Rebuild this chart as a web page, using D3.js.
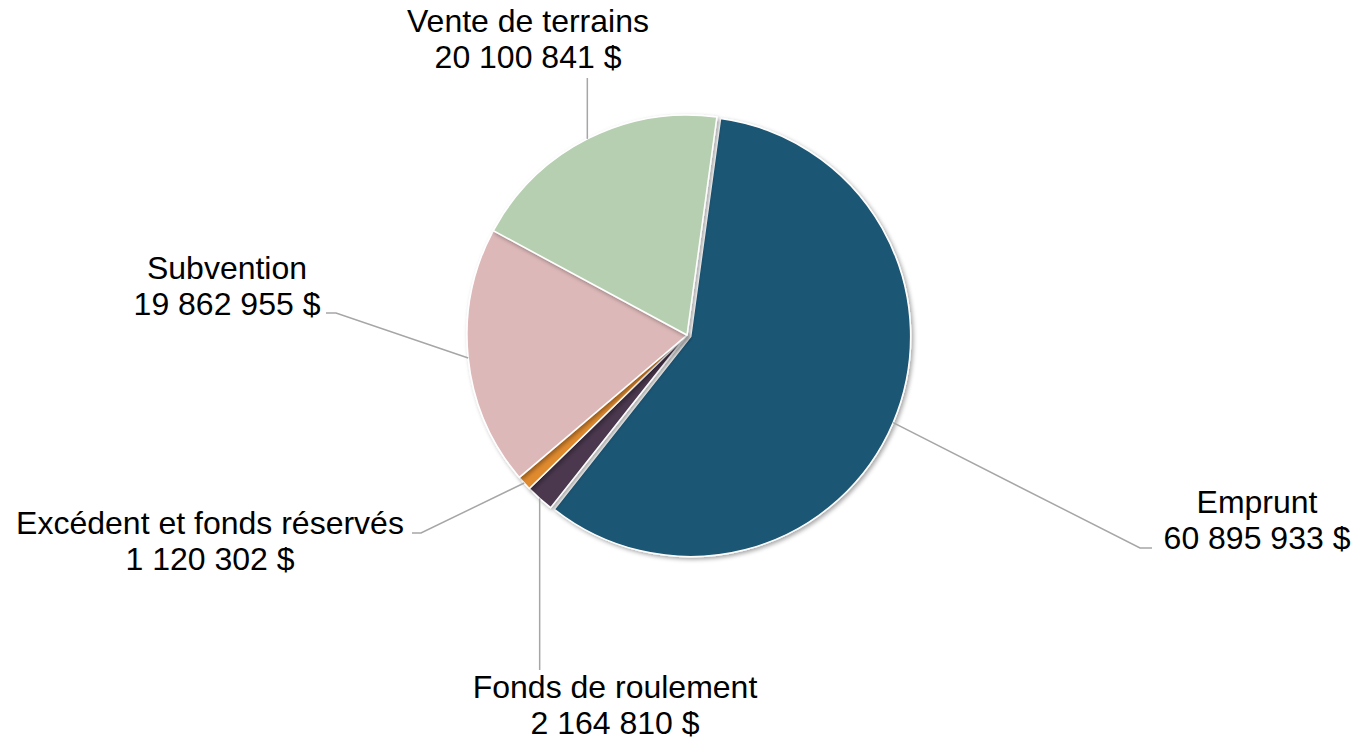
<!DOCTYPE html>
<html><head><meta charset="utf-8">
<script src="https://cdn.jsdelivr.net/npm/d3@7"></script>
<style>body{margin:0;background:#fff}svg{display:block}</style>
</head><body>
<svg id="c" width="1355" height="741"></svg>
<script>
const categories = ["Emprunt", "Fonds de roulement", "Excédent et fonds réservés", "Subvention", "Vente de terrains"];
const values = [60895933, 2164810, 1120302, 19862955, 20100841];
const valueLabels = ["60 895 933 $", "2 164 810 $", "1 120 302 $", "19 862 955 $", "20 100 841 $"];
const colors = ["#1E5774", "#4B3850", "#E08A2E", "#DDB8B9", "#B6CFB1"];

// layout (positions of label blocks and leader-line elbows)
const cx = 687, cy = 335, R = 220;
const labelPos = [
  {x: 1257, y: 513, elbow: [[1140, 548], [1152, 548]]},
  {x: 615, y: 698, elbow: [[null, 670]]},
  {x: 210, y: 534, elbow: [[421, 533], [412, 533]]},
  {x: 227, y: 279, elbow: [[336, 313], [326, 313]]},
  {x: 528, y: 32, elbow: [[null, 78]]}
];

const svg = d3.select("#c");
const defs = svg.append("defs");
const f = defs.append("filter").attr("id","sh").attr("x","-20%").attr("y","-20%").attr("width","140%").attr("height","140%");
f.append("feDropShadow").attr("dx",2).attr("dy",2).attr("stdDeviation",2).attr("flood-color","#000").attr("flood-opacity",0.35);

const data = categories.map((c,i)=>({name:c, value:values[i], label:valueLabels[i], color:colors[i], pos:labelPos[i]}));
const start = 7.8 * Math.PI/180;
const pie = d3.pie().value(d=>d.value).sort(null).startAngle(start).endAngle(start + 2*Math.PI);
const arcs = pie(data);
const arc = d3.arc().innerRadius(0).outerRadius(R);
const explode = [4,0,0,0,0];

const g = svg.append("g").attr("transform",`translate(${cx},${cy})`);
g.selectAll("path").data(arcs).join("path")
  .attr("d", arc)
  .attr("fill", d=>d.data.color)
  .attr("stroke","#fff").attr("stroke-width",1.5).attr("stroke-linejoin","round")
  .attr("filter","url(#sh)")
  .attr("transform",(d,i)=>{
    const a=(d.startAngle+d.endAngle)/2;
    return `translate(${explode[i]*Math.sin(a)},${-explode[i]*Math.cos(a)})`;
  });

// leader lines
arcs.forEach((d,i)=>{
  const a=(d.startAngle+d.endAngle)/2;
  const r = R + explode[i];
  const px = cx + r*Math.sin(a), py = cy - r*Math.cos(a);
  const pts=[[px,py]];
  d.data.pos.elbow.forEach(p=>pts.push([p[0]===null?px:p[0], p[1]]));
  svg.append("path").attr("d", d3.line()(pts))
    .attr("fill","none").attr("stroke","#A6A6A6").attr("stroke-width",1.5);
});

// labels
arcs.forEach(d=>{
  const t = svg.append("text").attr("text-anchor","middle")
    .attr("font-family","'Liberation Sans', Arial, sans-serif").attr("font-size",32).attr("fill","#000");
  t.append("tspan").attr("x",d.data.pos.x).attr("y",d.data.pos.y).text(d.data.name);
  t.append("tspan").attr("x",d.data.pos.x).attr("y",d.data.pos.y+36).text(d.data.label);
});
</script>
</body></html>
